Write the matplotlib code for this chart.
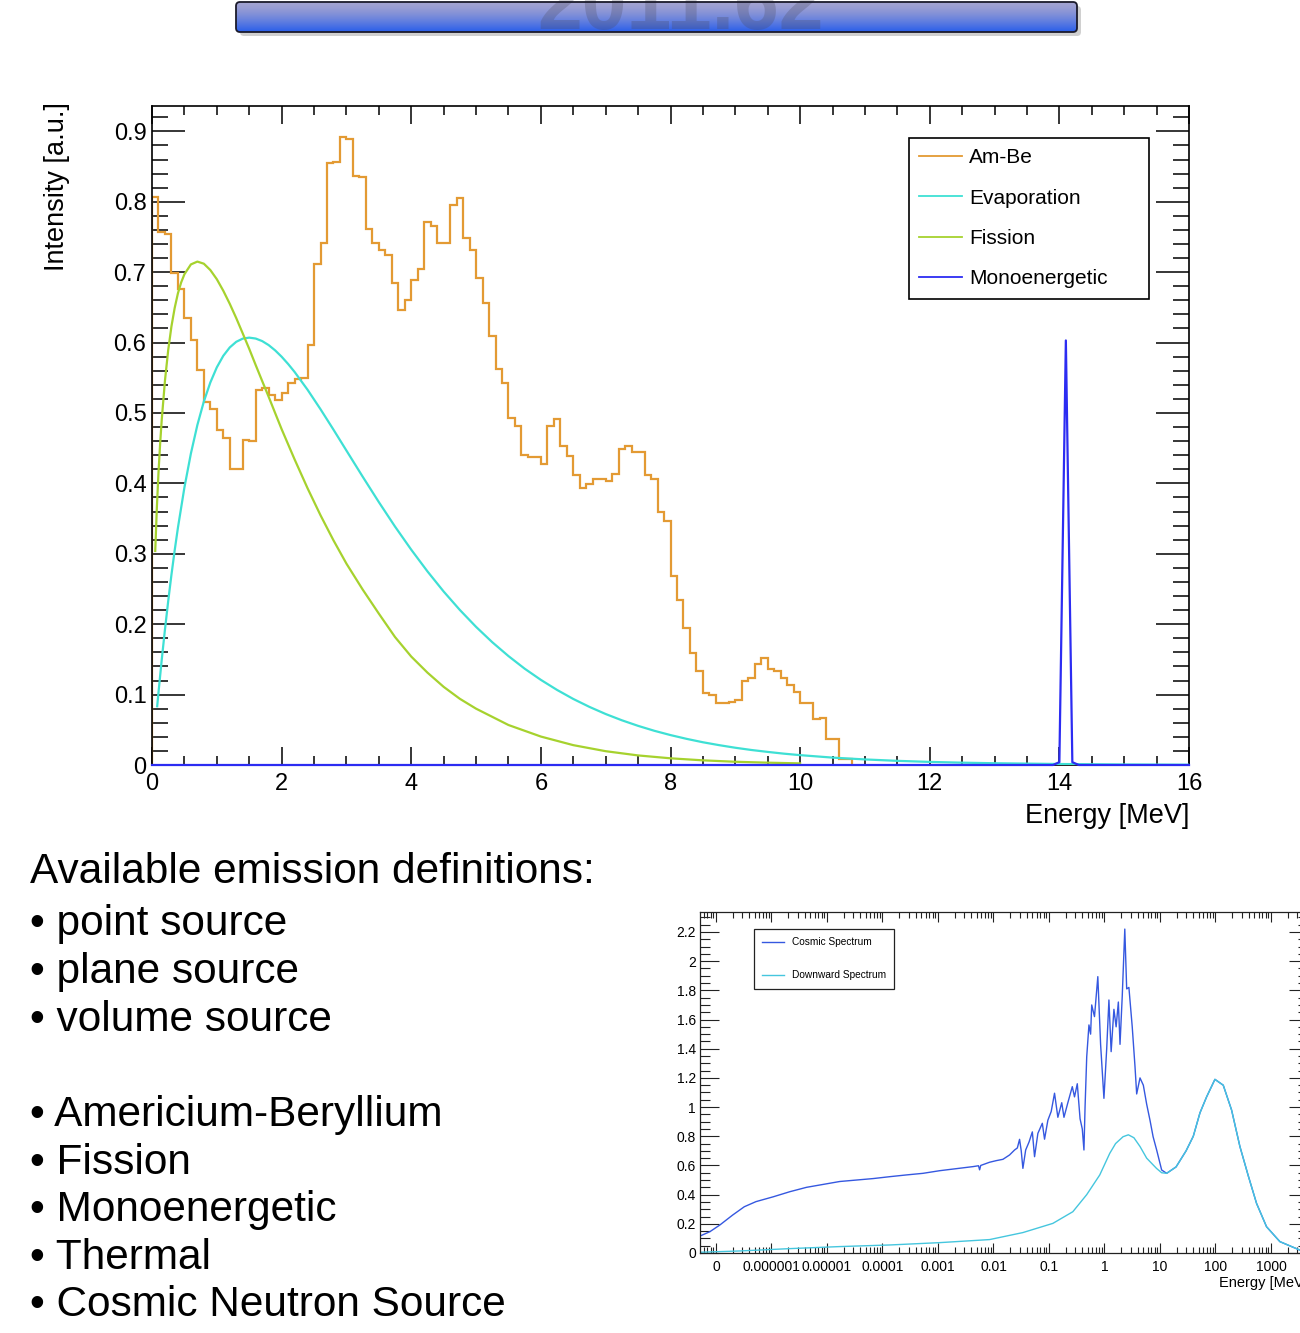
import numpy as np
import matplotlib
matplotlib.use("Agg")
import matplotlib.pyplot as plt
from matplotlib.patches import FancyBboxPatch
from matplotlib.lines import Line2D
from matplotlib.ticker import (MultipleLocator, FixedLocator, FixedFormatter,
                               NullFormatter, LogLocator)

plt.rcParams['font.family'] = ['Liberation Sans', 'DejaVu Sans']

# ---------------- data: main chart ----------------
ambe_bin_width = 0.1
ambe_counts = [
    0.807, 0.757, 0.754, 0.699, 0.676, 0.635, 0.604, 0.561, 0.515, 0.505,
    0.476, 0.465, 0.421, 0.421, 0.461, 0.460, 0.532, 0.535, 0.525, 0.519,
    0.529, 0.543, 0.548, 0.550, 0.596, 0.711, 0.741, 0.855, 0.857, 0.892,
    0.889, 0.836, 0.835, 0.762, 0.741, 0.731, 0.724, 0.685, 0.646, 0.661,
    0.689, 0.705, 0.771, 0.765, 0.741, 0.741, 0.796, 0.805, 0.749, 0.731,
    0.691, 0.656, 0.609, 0.563, 0.543, 0.493, 0.482, 0.441, 0.438, 0.438,
    0.428, 0.482, 0.491, 0.453, 0.439, 0.412, 0.393, 0.399, 0.406, 0.406,
    0.404, 0.414, 0.449, 0.453, 0.445, 0.445, 0.412, 0.406, 0.359, 0.347,
    0.269, 0.235, 0.195, 0.159, 0.134, 0.102, 0.0995, 0.0886, 0.0886, 0.090,
    0.0924, 0.119, 0.124, 0.144, 0.152, 0.137, 0.133, 0.124, 0.113, 0.103,
    0.0886, 0.0886, 0.066, 0.067, 0.037, 0.037, 0.008, 0.008,
]

evap_E = [0.08, 0.1, 0.15, 0.2, 0.25, 0.3, 0.35, 0.4, 0.5, 0.6, 0.7, 0.8,
          0.9, 1.0, 1.1, 1.2, 1.3, 1.4, 1.5, 1.6, 1.7, 1.8, 1.9, 2.0, 2.1,
          2.2, 2.4, 2.6, 2.8, 3.0, 3.25, 3.5, 3.75, 4.0, 4.25, 4.5, 4.75,
          5.0, 5.25, 5.5, 5.75, 6.0, 6.25, 6.5, 6.75, 7.0, 7.25, 7.5, 7.75,
          8.0, 8.25, 8.5, 8.75, 9.0, 9.25, 9.5, 9.75, 10.0, 10.5, 11.0, 11.5,
          12.0, 12.5, 13.0, 14.0, 15.0, 16.0]
evap_I = [0.0834, 0.1029, 0.1493, 0.1925, 0.2328, 0.2702, 0.3049, 0.3370,
          0.3941, 0.4424, 0.4829, 0.5163, 0.5433, 0.5648, 0.5812, 0.5931,
          0.6011, 0.6056, 0.6070, 0.6057, 0.6021, 0.5964, 0.5889, 0.5799,
          0.5696, 0.5583, 0.5330, 0.5053, 0.4763, 0.4466, 0.4096, 0.3734,
          0.3386, 0.3058, 0.2750, 0.2464, 0.2202, 0.1962, 0.1744, 0.1547,
          0.1368, 0.1209, 0.1066, 0.0938, 0.0825, 0.0724, 0.0635, 0.0556,
          0.0486, 0.0425, 0.0371, 0.0323, 0.0282, 0.0245, 0.0213, 0.0186,
          0.0161, 0.0140, 0.0105, 0.0079, 0.0059, 0.0044, 0.0033, 0.0025,
          0.0014, 0.00075, 0.0004]

fiss_E = [0.05, 0.075, 0.1, 0.125, 0.15, 0.2, 0.25, 0.3, 0.35, 0.4, 0.45,
          0.5, 0.6, 0.7, 0.8, 0.9, 1.0, 1.1, 1.2, 1.3, 1.4, 1.5, 1.6, 1.7,
          1.8, 1.9, 2.0, 2.2, 2.4, 2.6, 2.8, 3.0, 3.25, 3.5, 3.75, 4.0, 4.25,
          4.5, 4.75, 5.0, 5.5, 6.0, 6.5, 7.0, 7.5, 8.0, 8.5, 9.0, 9.5, 10.0]
fiss_I = [0.304, 0.3657, 0.415, 0.4556, 0.490, 0.546, 0.5893, 0.623, 0.6492,
          0.670, 0.6854, 0.697, 0.711, 0.715, 0.712, 0.703, 0.690, 0.6736,
          0.655, 0.6347, 0.613, 0.5911, 0.568, 0.5454, 0.523, 0.4999, 0.477,
          0.4341, 0.3931, 0.3547, 0.3191, 0.286, 0.2493, 0.215, 0.1817,
          0.154, 0.1312, 0.111, 0.094, 0.080, 0.0568, 0.0404, 0.0282, 0.0196,
          0.0136, 0.0095, 0.0066, 0.0046, 0.0033, 0.0023]

mono_E = [0.0, 13.9, 14.0, 14.1, 14.2, 14.3, 16.0]
mono_I = [0.0, 0.0, 0.004, 0.603, 0.004, 0.0, 0.0]

main_xticks = [0, 2, 4, 6, 8, 10, 12, 14, 16]
main_yticks = [0, 0.1, 0.2, 0.3, 0.4, 0.5, 0.6, 0.7, 0.8, 0.9]
main_ytick_labels = ['0', '0.1', '0.2', '0.3', '0.4', '0.5', '0.6', '0.7',
                     '0.8', '0.9']
main_series = ['Am-Be', 'Evaporation', 'Fission', 'Monoenergetic']

# ---------------- data: inset (cosmic) ----------------
cosmic_logE = [-7.29, -7.11, -6.93, -6.70, -6.49, -6.28, -5.97, -5.67, -5.37,
               -5.07, -4.77, -4.47, -4.17, -3.87, -3.57, -3.27, -2.97, -2.67,
               -2.37, -2.27, -2.25, -2.23, -2.07, -1.95, -1.83, -1.71, -1.62,
               -1.57, -1.53, -1.50, -1.47, -1.42, -1.36, -1.30, -1.26, -1.20,
               -1.12, -1.08, -1.02, -0.96, -0.90, -0.84, -0.77, -0.73, -0.66,
               -0.58, -0.54, -0.49, -0.44, -0.40, -0.37, -0.35, -0.32, -0.28,
               -0.25, -0.23, -0.18, -0.12, -0.07, -0.01, 0.04, 0.08, 0.12,
               0.17, 0.21, 0.25, 0.28, 0.32, 0.366, 0.40, 0.44, 0.50, 0.55,
               0.58, 0.64, 0.70, 0.76, 0.82, 0.876, 0.94, 1.03, 1.12, 1.29,
               1.47, 1.60, 1.72, 1.84, 1.99, 2.14, 2.29, 2.44, 2.59, 2.74,
               2.92, 3.16, 3.52, 3.67]
cosmic_I = [0.116, 0.146, 0.192, 0.26, 0.317, 0.352, 0.385, 0.42, 0.45, 0.47,
            0.49, 0.50, 0.51, 0.523, 0.535, 0.546, 0.564, 0.578, 0.592, 0.598,
            0.57, 0.60, 0.622, 0.633, 0.642, 0.672, 0.706, 0.72, 0.779, 0.70,
            0.58, 0.706, 0.76, 0.83, 0.66, 0.82, 0.889, 0.78, 0.91, 0.97,
            1.095, 0.93, 1.03, 0.93, 1.03, 1.14, 1.07, 1.16, 0.92, 0.85,
            0.706, 1.0, 1.345, 1.563, 1.50, 1.70, 1.62, 1.894, 1.43, 1.06,
            1.40, 1.734, 1.38, 1.67, 1.55, 1.72, 1.43, 1.76, 2.22, 1.81, 1.82,
            1.55, 1.277, 1.09, 1.2, 1.15, 1.02, 0.91, 0.797, 0.706, 0.569,
            0.546, 0.59, 0.70, 0.80, 0.96, 1.07, 1.19, 1.15, 0.98, 0.73, 0.53,
            0.34, 0.18, 0.078, 0.02, 0.01]

down_logE = [-7.29, -6.57, -5.67, -4.77, -3.87, -2.97, -2.07, -1.47, -0.93,
             -0.57, -0.32, -0.085, 0.095, 0.20, 0.335, 0.43, 0.53, 0.64, 0.76,
             0.937, 1.03, 1.12, 1.29, 1.47, 1.60, 1.72, 1.84, 1.99, 2.14,
             2.29, 2.44, 2.59, 2.74, 2.92, 3.16, 3.52, 3.67]
down_I = [0.005, 0.014, 0.03, 0.044, 0.055, 0.071, 0.092, 0.14, 0.203, 0.283,
          0.40, 0.535, 0.683, 0.75, 0.797, 0.81, 0.79, 0.73, 0.65, 0.58,
          0.55, 0.546, 0.59, 0.70, 0.80, 0.96, 1.07, 1.19, 1.15, 0.98, 0.73,
          0.53, 0.34, 0.18, 0.078, 0.02, 0.01]

inset_xtick_exp = [-7, -6, -5, -4, -3, -2, -1, 0, 1, 2, 3]
inset_xtick_labels = ['0', '0.000001', '0.00001', '0.0001', '0.001', '0.01',
                      '0.1', '1', '10', '100', '1000']
inset_yticks = [0, 0.2, 0.4, 0.6, 0.8, 1.0, 1.2, 1.4, 1.6, 1.8, 2.0, 2.2]
inset_ytick_labels = ['0', '0.2', '0.4', '0.6', '0.8', '1', '1.2', '1.4',
                      '1.6', '1.8', '2', '2.2']
inset_series = ['Cosmic Spectrum', 'Downward Spectrum']

# ---------------- slide text ----------------
heading = 'Available emission definitions:'
bullets_a = ['point source', 'plane source', 'volume source']
bullets_b = ['Americium-Beryllium', 'Fission', 'Monoenergetic', 'Thermal',
             'Cosmic Neutron Source']
banner_ghost = '2011.62'

# ---------------- styles ----------------
C_AMBE = '#e39a33'
C_EVAP = '#3ee0d4'
C_FISS = '#a6d22e'
C_MONO = '#2c2cf2'
C_COSMIC = '#3558e0'
C_DOWN = '#45c6de'

W, H = 1300, 1333
fig = plt.figure(figsize=(W / 100, H / 100), dpi=100)
fig.patch.set_facecolor('white')


def fx(px):
    return px / W


def fy(py):
    return 1 - py / H


# ---------------- banner ----------------
ban = fig.add_axes([0, fy(42), 1, 42 / H])
ban.set_xlim(0, W)
ban.set_ylim(42, 0)
ban.axis('off')
shadow = FancyBboxPatch((240, 6), 841, 30, boxstyle='round,pad=0,rounding_size=4',
                        fc='#7a7a7a', ec='none', alpha=0.35)
ban.add_patch(shadow)
t = np.linspace(0, 1, 64) ** 1.4
c0 = np.array([0.64, 0.64, 0.82])
c1 = np.array([0.16, 0.37, 0.92])
grad = (c0[None, :] * (1 - t[:, None]) + c1[None, :] * t[:, None])[:, None, :]
banner_box = FancyBboxPatch((236, 2), 841, 30, boxstyle='round,pad=0,rounding_size=4',
                            fc='none', ec='#1b1b2b', lw=1.3, zorder=5)
ban.add_patch(banner_box)
im = ban.imshow(grad, extent=[236, 1077, 32, 2], aspect='auto',
                interpolation='bilinear', zorder=1)
im.set_clip_path(banner_box)
gt = ban.text(681, 29, banner_ghost, fontsize=58, fontweight='bold',
              color='#4a4a60', alpha=0.28, ha='center', va='baseline', zorder=2)
gt.set_clip_path(banner_box)

# ---------------- main chart ----------------
ax = fig.add_axes([fx(152), fy(765), (1189 - 152) / W, (765 - 106) / H])
edges = np.round(np.arange(len(ambe_counts) + 1) * ambe_bin_width, 3)
ax.stairs(ambe_counts, edges, baseline=0, color=C_AMBE, lw=1.6, zorder=2)
ax.plot(evap_E, evap_I, color=C_EVAP, lw=1.6, zorder=3)
ax.plot(fiss_E, fiss_I, color=C_FISS, lw=1.6, zorder=3)
ax.plot(mono_E, mono_I, color=C_MONO, lw=1.6, zorder=4, clip_on=False)
ax.set_xlim(0, 16)
ax.set_ylim(0, 0.936)

ax.xaxis.set_major_locator(FixedLocator(main_xticks))
ax.xaxis.set_minor_locator(MultipleLocator(0.5))
ax.yaxis.set_major_locator(FixedLocator(main_yticks))
ax.yaxis.set_major_formatter(FixedFormatter(main_ytick_labels))
ax.yaxis.set_minor_locator(MultipleLocator(0.02))
ax.tick_params(which='both', direction='in', top=True, right=True,
               labelsize=17, width=1.1, color='black')
ax.tick_params(axis='x', which='major', length=13, pad=6)
ax.tick_params(axis='x', which='minor', length=6.5)
ax.tick_params(axis='y', which='major', length=24, pad=4)
ax.tick_params(axis='y', which='minor', length=11.5)
for s in ax.spines.values():
    s.set_linewidth(1.2)
    s.set_color('black')

ax.set_xlabel('Energy [MeV]', fontsize=19.5, loc='right')
ax.xaxis.set_label_coords(1.0, -(803 - 765) / 659)
ax.set_ylabel('Intensity [a.u.]', fontsize=19.5, loc='top')
ax.yaxis.set_label_coords(-(152 - 70) / 1037, 1 + 4 / 659)

handles = [Line2D([], [], color=c, lw=1.3) for c in (C_AMBE, C_EVAP, C_FISS, C_MONO)]
leg = ax.legend(handles, main_series, loc='upper left',
                bbox_to_anchor=((909 - 152) / 1037, (765 - 296) / 659,
                                240 / 1037, 158 / 659),
                mode='expand', borderaxespad=0, fontsize=15, handlelength=2.05,
                handletextpad=0.32, labelspacing=1.02, borderpad=0.5,
                fancybox=False, framealpha=1, edgecolor='black')
leg.get_frame().set_linewidth(1.2)

# ---------------- inset ----------------
ax2 = fig.add_axes([fx(700), fy(1253), 608 / W, 341 / H])
ax2.set_xscale('log')
ax2.plot(10.0 ** np.array(cosmic_logE), cosmic_I, color=C_COSMIC, lw=1.0)
ax2.plot(10.0 ** np.array(down_logE), down_I, color=C_DOWN, lw=1.0)
ax2.set_xlim(10 ** -7.288, 10 ** 3.667)
ax2.set_ylim(0, 2.337)
ax2.xaxis.set_major_locator(FixedLocator(10.0 ** np.array(inset_xtick_exp)))
ax2.xaxis.set_major_formatter(FixedFormatter(inset_xtick_labels))
ax2.xaxis.set_minor_locator(LogLocator(base=10, subs=np.arange(2, 10), numticks=200))
ax2.xaxis.set_minor_formatter(NullFormatter())
ax2.yaxis.set_major_locator(FixedLocator(inset_yticks))
ax2.yaxis.set_major_formatter(FixedFormatter(inset_ytick_labels))
ax2.yaxis.set_minor_locator(MultipleLocator(0.05))
ax2.tick_params(which='both', direction='in', top=True, right=True,
                labelsize=10, width=0.8, color='#222222')
ax2.tick_params(axis='x', which='major', length=7.5, pad=5)
ax2.tick_params(axis='x', which='minor', length=4.2)
ax2.tick_params(axis='y', which='major', length=13.5, pad=3)
ax2.tick_params(axis='y', which='minor', length=7)
for s in ax2.spines.values():
    s.set_linewidth(0.9)
    s.set_color('#222222')
ax2.set_xlabel('Energy [MeV]', fontsize=10.5, loc='right')
ax2.xaxis.set_label_coords(1.0, -(1276 - 1253) / 341)

handles2 = [Line2D([], [], color=c, lw=1.0) for c in (C_COSMIC, C_DOWN)]
leg2 = ax2.legend(handles2, inset_series, loc='upper left',
                  bbox_to_anchor=(54 / 608, (1253 - 990) / 341, 140 / 608, 61 / 341),
                  mode='expand', borderaxespad=0, fontsize=7.3, handlelength=2.2,
                  handletextpad=0.7, labelspacing=2.3, borderpad=0.8,
                  fancybox=False, framealpha=1, edgecolor='#222222')
leg2.get_frame().set_linewidth(0.9)

# ---------------- slide text ----------------
FS = 30.5
fig.text(fx(30), fy(883), heading, fontsize=FS, va='baseline', ha='left')
for txt, base in zip(bullets_a, [935, 983, 1031]):
    fig.text(fx(30), fy(base), '\u2022 ' + txt, fontsize=FS, va='baseline', ha='left')
for txt, base in zip(bullets_b, [1126, 1174, 1221, 1269, 1316]):
    fig.text(fx(30), fy(base), '\u2022 ' + txt, fontsize=FS, va='baseline', ha='left')

fig.savefig('out.png', dpi=100)
